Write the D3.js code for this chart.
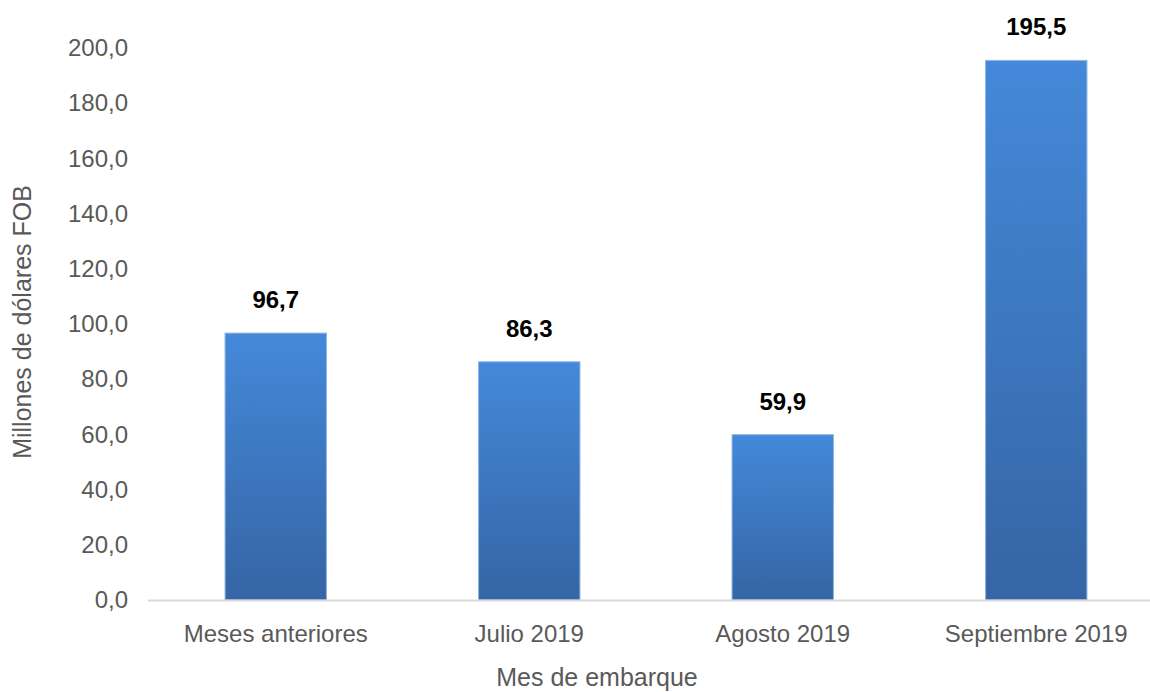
<!DOCTYPE html>
<html lang="es">
<head>
<meta charset="utf-8">
<title>Mes de embarque</title>
<script src="https://d3js.org/d3.v7.min.js"></script>
<style>
  body { margin: 0; background: #fff; }
  text { font-family: "Liberation Sans", Arial, sans-serif; }
  .tick text { fill: #595959; font-size: 24px; }
  .val { font-weight: bold; font-size: 24px; fill: #000; }
  .title { fill: #595959; font-size: 25px; }
</style>
</head>
<body>
<div id="chart"></div>
<script>
var categories = ["Meses anteriores", "Julio 2019", "Agosto 2019", "Septiembre 2019"];
var values = [96.7, 86.3, 59.9, 195.5];
var yTicks = [0, 20, 40, 60, 80, 100, 120, 140, 160, 180, 200];

var width = 1150, height = 692;
var svg = d3.select("#chart").append("svg")
    .attr("width", width)
    .attr("height", height);

var x = d3.scaleBand().domain(categories).range([149, 1163]).paddingInner(0.6).paddingOuter(0.3);
var y = d3.scaleLinear().domain([0, 200]).range([600, 48]);

var fmt = function(d) { return d3.format(".1f")(d).replace(".", ","); };

var grad = svg.append("defs").append("linearGradient")
    .attr("id", "barGrad").attr("x1", 0).attr("y1", 0).attr("x2", 0).attr("y2", 1);
grad.append("stop").attr("offset", "0%").attr("stop-color", "#4489da");
grad.append("stop").attr("offset", "100%").attr("stop-color", "#3565a4");

// y axis labels
var yAxis = svg.append("g")
    .attr("transform", "translate(148,0)")
    .call(d3.axisLeft(y).tickValues(yTicks).tickFormat(fmt).tickSize(0).tickPadding(20));
yAxis.select(".domain").remove();

// bars
svg.selectAll("rect.bar")
  .data(values)
  .enter().append("rect")
    .attr("class", "bar")
    .attr("x", function(d, i) { return x(categories[i]); })
    .attr("width", x.bandwidth())
    .attr("y", function(d) { return y(d); })
    .attr("height", function(d) { return y(0) - y(d); })
    .attr("fill", "url(#barGrad)")
    .attr("stroke", "#8fb4e3")
    .attr("stroke-width", 1);

// x axis
var xAxis = svg.append("g")
    .attr("transform", "translate(0,600)")
    .call(d3.axisBottom(x).tickSize(0).tickPadding(25));
xAxis.select(".domain").remove();
svg.append("line")
    .attr("x1", 148).attr("x2", 1150)
    .attr("y1", y(0) + 0.5).attr("y2", y(0) + 0.5)
    .attr("stroke", "#d9d9d9").attr("stroke-width", 2);

// value labels
svg.selectAll("text.val")
  .data(values)
  .enter().append("text")
    .attr("class", "val")
    .attr("text-anchor", "middle")
    .attr("x", function(d, i) { return x(categories[i]) + x.bandwidth() / 2; })
    .attr("y", function(d) { return y(d) - 25; })
    .text(fmt);

// axis titles
svg.append("text")
    .attr("class", "title")
    .attr("text-anchor", "middle")
    .attr("transform", "translate(31,322) rotate(-90)")
    .text("Millones de dólares FOB");

svg.append("text")
    .attr("class", "title")
    .attr("text-anchor", "middle")
    .attr("x", 597).attr("y", 686)
    .text("Mes de embarque");
</script>
</body>
</html>
